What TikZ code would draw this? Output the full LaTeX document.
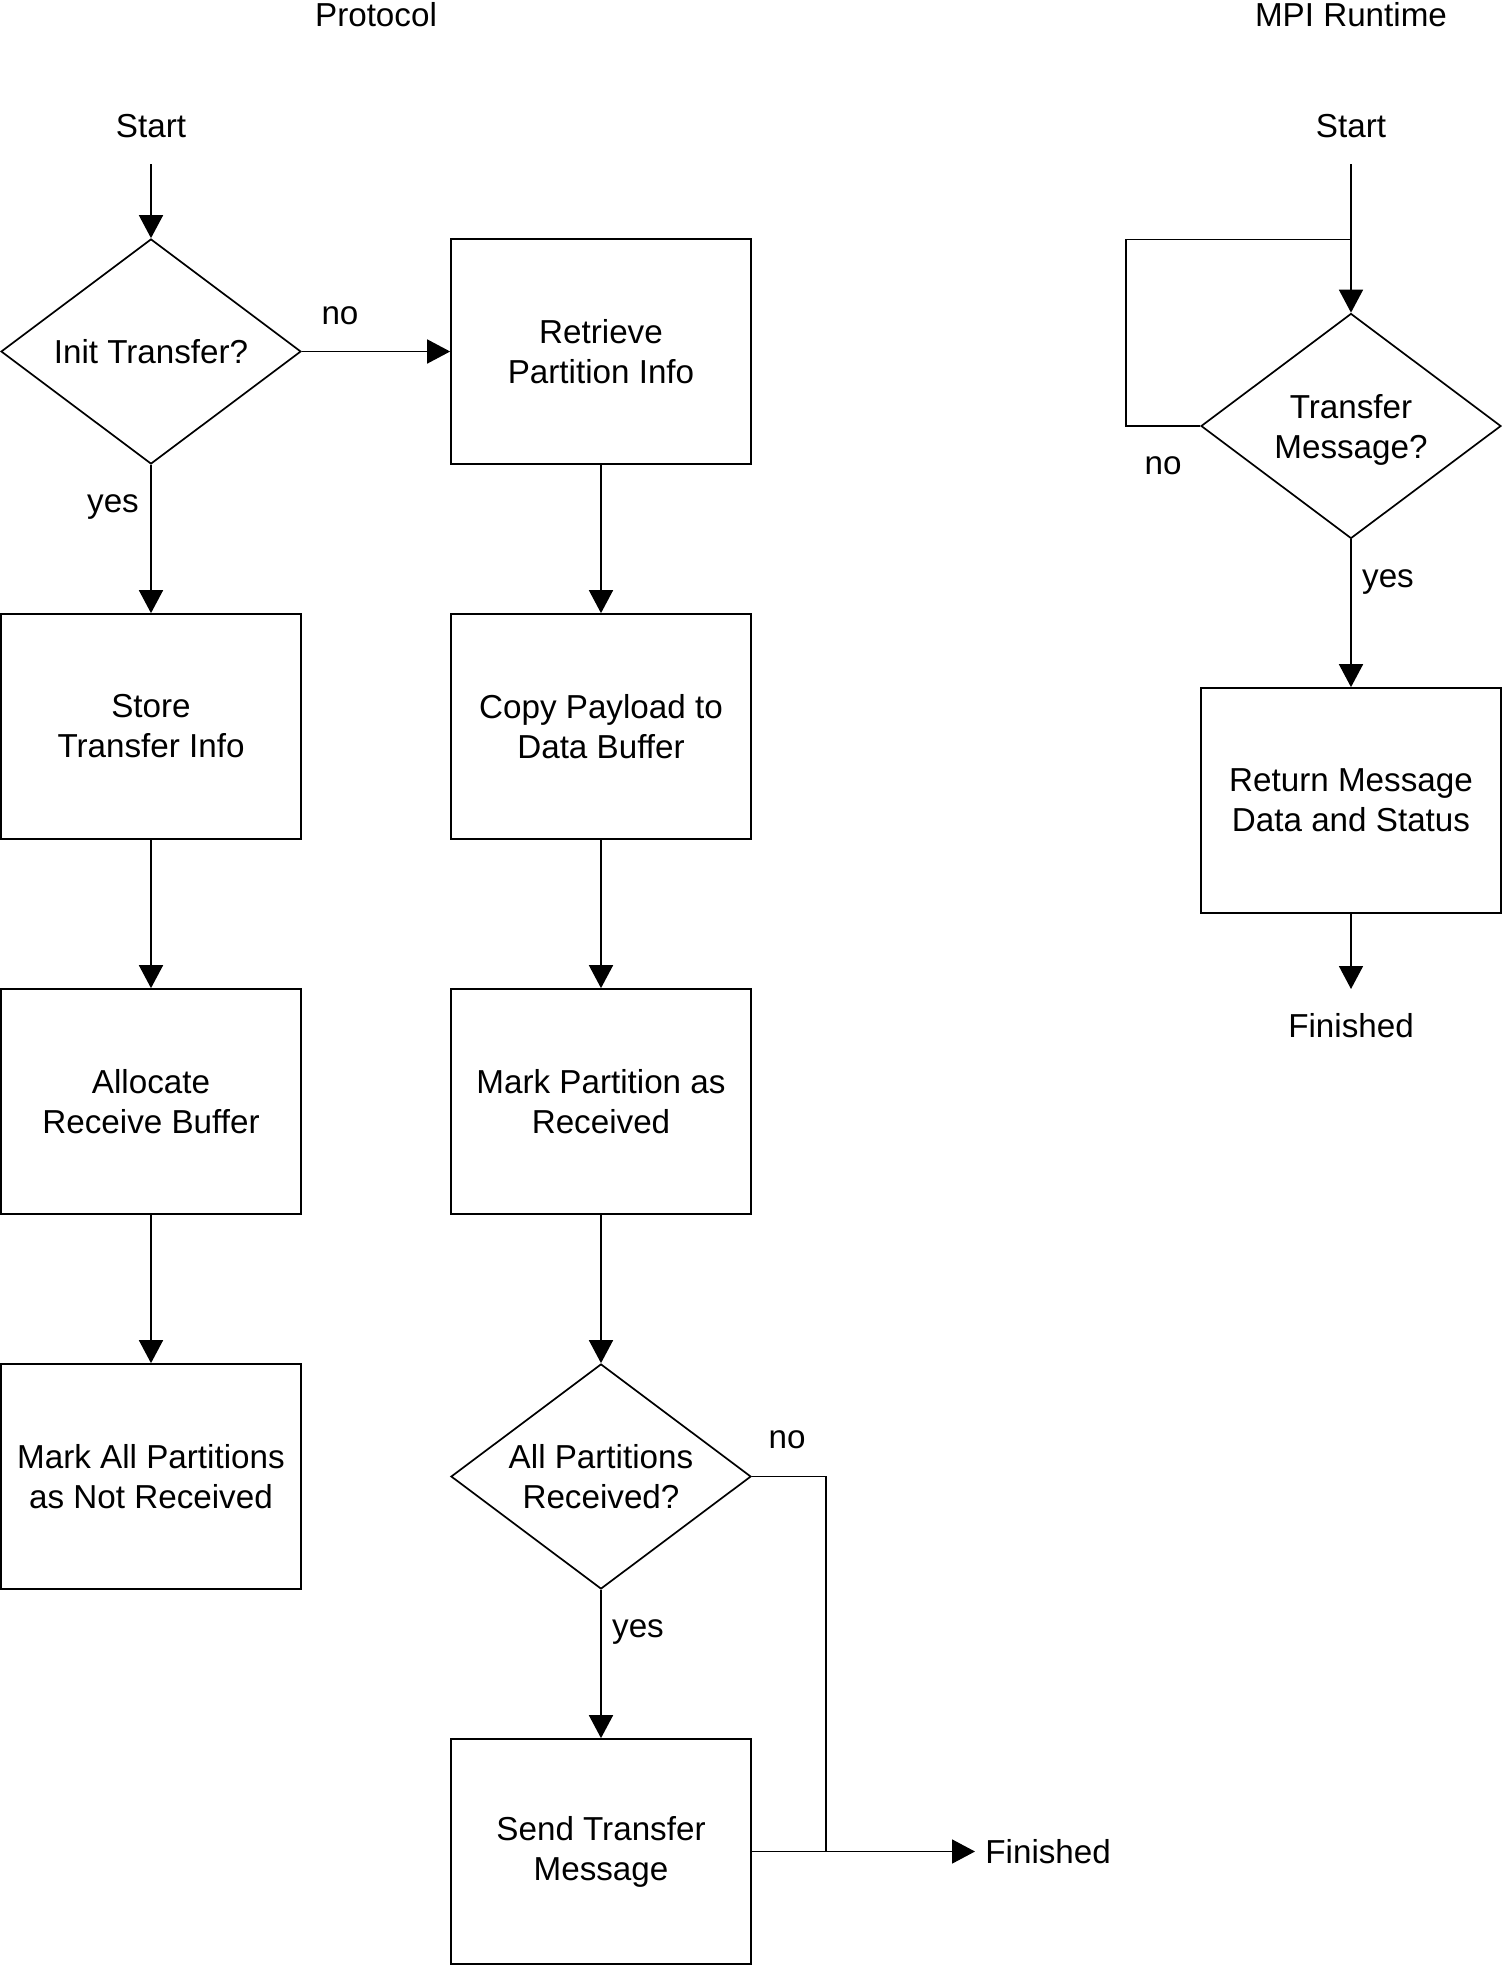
\documentclass[tikz,border=0pt]{standalone}
\usepackage{fontspec}
\setmainfont{Liberation Sans}
\usetikzlibrary{shapes.geometric,arrows.meta}

\begin{document}
\begin{tikzpicture}[x=0.5pt,y=-0.5pt,
  every node/.style={font=\fontsize{16.6}{20}\selectfont},
  stepbox/.style={draw, rectangle, line width=0.85pt, minimum width=150pt,
    minimum height=112.5pt, inner sep=0pt, align=center},
  decision/.style={draw, diamond, aspect=1.333, line width=0.85pt, minimum width=150pt,
    minimum height=112.5pt, inner sep=0pt, align=center},
  lbl/.style={inner sep=0pt},
  wire/.style={line width=0.85pt},
  flow/.style={wire, -{Triangle[length=11.5pt,width=12pt]}}]

\useasboundingbox (0,0) rectangle (1502,1966);

% column headings
\node[lbl, anchor=base] (hProt) at (376,26) {Protocol};
\node[lbl, anchor=base] (hMpi) at (1351,26) {MPI Runtime};

% protocol flow
\node[lbl, anchor=base] (startL) at (151,137) {Start};
\coordinate (sL) at (151,164);
\node[decision] (init) at (151,351.5) {Init Transfer?};
\node[stepbox] (retr) at (601,351.5) {Retrieve\\Partition Info};
\node[stepbox] (store) at (151,726.5) {Store\\Transfer Info};
\node[stepbox] (alloc) at (151,1101.5) {Allocate\\Receive Buffer};
\node[stepbox] (markall) at (151,1476.5) {Mark All Partitions\\as Not Received};
\node[stepbox] (copy) at (601,726.5) {Copy Payload to\\Data Buffer};
\node[stepbox] (markpart) at (601,1101.5) {Mark Partition as\\Received};
\node[decision] (allrec) at (601,1476.5) {All Partitions\\Received?};
\node[stepbox] (send) at (601,1851.5) {Send Transfer\\Message};
\node[lbl, anchor=west, inner sep=5pt] (finL) at (975,1851.5) {Finished};
\coordinate (jn) at (826,1851.5);

\draw[flow] (sL) -- (init.north);
\draw[flow] (init.east) -- (retr.west);
\draw[flow] (init.south) -- (store.north);
\draw[flow] (store.south) -- (alloc.north);
\draw[flow] (alloc.south) -- (markall.north);
\draw[flow] (retr.south) -- (copy.north);
\draw[flow] (copy.south) -- (markpart.north);
\draw[flow] (markpart.south) -- (allrec.north);
\draw[flow] (allrec.south) -- (send.north);
\draw[wire] (allrec.east) -| (jn);
\draw[flow] (send.east) -- (finL.west);

\node[lbl] (noA) at (340,316) {no};
\node[lbl] (yesA) at (113,507) {yes};
\node[lbl] (noB) at (787,1440) {no};
\node[lbl] (yesB) at (638,1632) {yes};

% runtime flow
\node[lbl, anchor=base] (startR) at (1351,137) {Start};
\coordinate (sR) at (1351,164);
\coordinate (jr) at (1351,239.5);
\coordinate (lpc) at (1126,239.5);
\node[decision, text depth=0pt] (tmsg) at (1351,426) {Transfer\\Message?};
\node[stepbox] (ret) at (1351,800.5) {Return Message\\Data and Status};
\node[lbl] (finR) at (1351,1026) {Finished};
\coordinate (fR) at (1351,989);

\draw[flow] (sR) -- (tmsg.north);
\draw[wire] (tmsg.west) -| (lpc) -- (jr);
\draw[flow] (tmsg.south) -- (ret.north);
\draw[flow] (ret.south) -- (fR);

\node[lbl] (noC) at (1163,466) {no};
\node[lbl] (yesC) at (1388,582) {yes};

\end{tikzpicture}
\end{document}
